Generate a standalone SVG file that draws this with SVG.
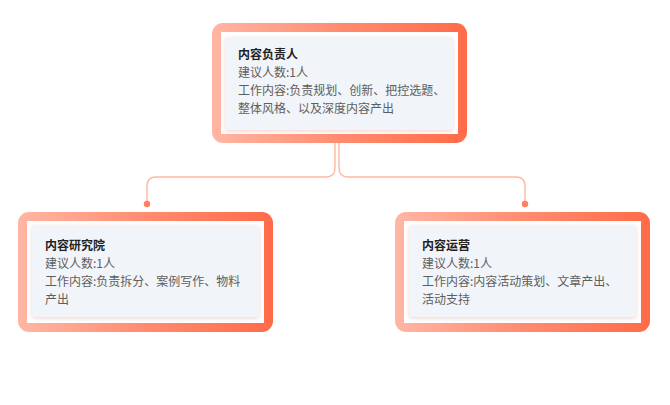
<svg xmlns="http://www.w3.org/2000/svg" width="670" height="405" viewBox="0 0 670 405">
<defs>
<linearGradient id="fr" x1="0" y1="0" x2="1" y2="0">
<stop offset="0" stop-color="#FFB6A4"/>
<stop offset="0.5" stop-color="#FF8C70"/>
<stop offset="1" stop-color="#FF6B48"/>
</linearGradient>
<filter id="sh" x="-10%" y="-10%" width="120%" height="130%">
<feDropShadow dx="0" dy="1.5" stdDeviation="2" flood-color="#E8A090" flood-opacity="0.45"/>
</filter>
</defs>
<style>
.frame{fill:url(#fr)}
.white{fill:#FFFFFF}
.card{fill:#F1F4F8;filter:url(#sh)}
.t{font-family:"Noto Sans CJK SC","Noto Sans",sans-serif;font-size:12px;fill:#5E5E5E}
.h{font-weight:bold;fill:#222222}
.ln{fill:none;stroke:#FFB7A2;stroke-width:1.4}
.dot{fill:#FF7F5E}
</style>
<rect width="670" height="405" fill="#FFFFFF"/>
<g id="connectors">
<path class="ln" d="M335,143 V168 Q335,177 326,177 H156 Q147,177 147,186 V204"/>
<path class="ln" d="M339,143 V168 Q339,177 348,177 H516 Q525,177 525,186 V204"/>
<circle class="dot" cx="147" cy="204" r="3.2"/>
<circle class="dot" cx="525" cy="204" r="3.2"/>
</g>
<g id="node-top">
<rect class="frame" x="212" y="23" width="255" height="120" rx="11"/>
<rect class="white" x="221" y="32" width="237" height="102"/>
<rect class="card" x="225" y="37" width="228" height="93" rx="3"/>
<text class="t h" x="238" y="59">内容负责人</text>
<text class="t" x="238" y="77">建议人数:1人</text>
<text class="t" x="238" y="95">工作内容:负责规划、创新、把控选题、</text>
<text class="t" x="238" y="113">整体风格、以及深度内容产出</text>
</g>
<g id="node-left">
<rect class="frame" x="18" y="212" width="255" height="120" rx="11"/>
<rect class="white" x="27" y="221" width="237" height="102"/>
<rect class="card" x="32" y="225" width="227" height="92" rx="3"/>
<text class="t h" x="45" y="250">内容研究院</text>
<text class="t" x="45" y="268">建议人数:1人</text>
<text class="t" x="45" y="286">工作内容:负责拆分、案例写作、物料</text>
<text class="t" x="45" y="304">产出</text>
</g>
<g id="node-right">
<rect class="frame" x="395" y="212" width="255" height="120" rx="11"/>
<rect class="white" x="404" y="221" width="237" height="102"/>
<rect class="card" x="409" y="225" width="227" height="92" rx="3"/>
<text class="t h" x="422" y="250">内容运营</text>
<text class="t" x="422" y="268">建议人数:1人</text>
<text class="t" x="422" y="286">工作内容:内容活动策划、文章产出、</text>
<text class="t" x="422" y="304">活动支持</text>
</g>
</svg>
